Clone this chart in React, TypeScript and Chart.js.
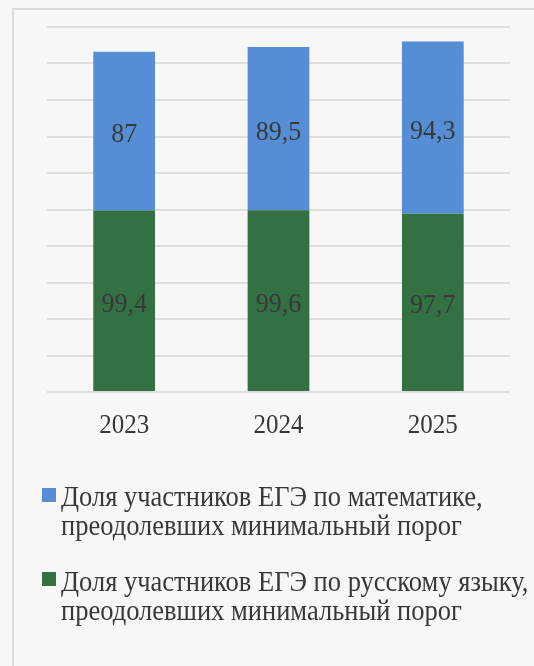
import React, { useEffect, useRef } from "react";
import { Chart, registerables } from "chart.js";

Chart.register(...registerables);

const years = ["2023", "2024", "2025"];
const russianValues = [99.4, 99.6, 97.7];
const mathValues = [87, 89.5, 94.3];
const mathLabel = ["Доля участников ЕГЭ по математике,", "преодолевших минимальный порог"];
const russianLabel = ["Доля участников ЕГЭ по русскому языку,", "преодолевших минимальный порог"];

const BLUE = "#558ed5";
const GREEN = "#337142";
const TEXT = "#383838";
const FONT = "'Liberation Serif', 'Times New Roman', serif";
const VSTRETCH = 1.08;

function drawText(ctx: any, txt: string, x: number, y: number, size: number, align: string) {
  ctx.save();
  ctx.font = `${size}px ${FONT}`;
  ctx.fillStyle = TEXT;
  ctx.textAlign = align;
  ctx.textBaseline = "alphabetic";
  ctx.translate(x, y);
  ctx.scale(1, VSTRETCH);
  ctx.fillText(txt, 0, 0);
  ctx.restore();
}

const valueLabels = {
  id: "valueLabels",
  afterDatasetsDraw(chart: any) {
    const ctx = chart.ctx;
    chart.data.datasets.forEach((ds: any, i: number) => {
      const meta = chart.getDatasetMeta(i);
      meta.data.forEach((el: any, j: number) => {
        const txt = String(ds.data[j]).replace(".", ",");
        drawText(ctx, txt, el.x, (el.y + el.base) / 2 + 11, 26, "center");
      });
    });
    const xs = chart.scales.x;
    chart.data.labels.forEach((lab: string, i: number) => {
      drawText(ctx, lab, xs.getPixelForTick(i), chart.chartArea.bottom + 41, 25, "center");
    });
  },
};

const legendPlugin = {
  id: "customLegend",
  afterDraw(chart: any) {
    const ctx = chart.ctx;
    const entries = [
      { color: BLUE, lines: mathLabel, y: 506, box: 488 },
      { color: GREEN, lines: russianLabel, y: 591, box: 572 },
    ];
    entries.forEach((e) => {
      ctx.save();
      ctx.fillStyle = e.color;
      ctx.fillRect(42, e.box, 14, 14);
      ctx.restore();
      e.lines.forEach((line, k) => {
        drawText(ctx, line, 61, e.y + k * 29, 26.5, "left");
      });
    });
  },
};

export default function App() {
  const ref = useRef<HTMLCanvasElement>(null);
  useEffect(() => {
    if (!ref.current) return;
    const chart = new Chart(ref.current, {
      type: "bar",
      data: {
        labels: years,
        datasets: [
          {
            label: russianLabel.join(" "),
            data: russianValues,
            backgroundColor: GREEN,
            categoryPercentage: 1,
            barPercentage: 0.4,
          },
          {
            label: mathLabel.join(" "),
            data: mathValues,
            backgroundColor: BLUE,
            categoryPercentage: 1,
            barPercentage: 0.4,
          },
        ],
      },
      options: {
        responsive: false,
        animation: false,
        layout: { padding: { left: 47, right: 24, top: 27, bottom: 224 } },
        plugins: { legend: { display: false }, tooltip: { enabled: false } },
        scales: {
          x: {
            stacked: true,
            grid: { display: false },
            border: { display: false },
            ticks: { display: false },
            afterFit(scale: any) {
              scale.height = 50;
            },
          },
          y: {
            stacked: true,
            min: 0,
            max: 200,
            ticks: { display: false, stepSize: 20 },
            border: { display: false },
            grid: { color: "#dedede", lineWidth: 2, drawTicks: false },
            afterFit(scale: any) {
              scale.width = 0;
            },
          },
        },
      },
      plugins: [valueLabels, legendPlugin],
    });
    return () => chart.destroy();
  }, []);

  return (
    <div
      style={{
        position: "fixed",
        left: 0,
        top: 0,
        width: 534,
        height: 666,
        overflow: "hidden",
        background: "#f7f7f7",
      }}
    >
      <div
        style={{
          position: "absolute",
          left: 12,
          top: 8,
          width: 600,
          height: 700,
          border: "2px solid #dcdcdc",
          boxSizing: "border-box",
        }}
      />
      <canvas
        ref={ref}
        width={534}
        height={666}
        style={{ position: "absolute", left: 0, top: 0, width: 534, height: 666 }}
      />
    </div>
  );
}
